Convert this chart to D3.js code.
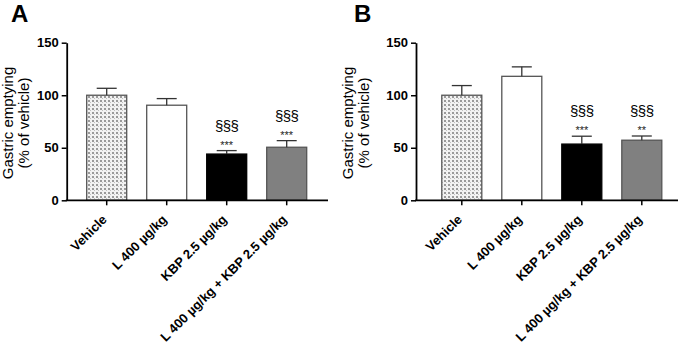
<!DOCTYPE html>
<html>
<head>
<meta charset="utf-8">
<script src="https://cdn.jsdelivr.net/npm/d3@7/dist/d3.min.js"></script>
<style>
  body { margin: 0; background: #fff; }
  svg { display: block; font-family: "Liberation Sans", Arial, sans-serif; }
  .tick text { font-weight: bold; font-size: 13px; fill: #000; }
  .tick line { stroke: #000; stroke-width: 1.5; }
</style>
</head>
<body>
<svg id="chart" width="685" height="342"></svg>
<script>
// Datos de los dos paneles
const groups = ["Vehicle", "L 400 µg/kg", "KBP 2.5 µg/kg", "L 400 µg/kg + KBP 2.5 µg/kg"];
const meanA = [100, 90.5, 44, 50.5];
const semA = [6.6, 6.3, 3.3, 6.3];
const meanB = [100, 118, 53.5, 57.2];
const semB = [9.2, 9, 7.5, 4];
const sectA = ["", "", "§§§", "§§§"];
const starsA = ["", "", "***", "***"];
const sectB = ["", "", "§§§", "§§§"];
const starsB = ["", "", "***", "**"];
const yTicks = [0, 50, 100, 150];

const fills = ["url(#dots)", "#ffffff", "#000000", "#808080"];

const svg = d3.select("#chart");

// patron punteado para Vehicle
const defs = svg.append("defs");
const pat = defs.append("pattern")
  .attr("id", "dots")
  .attr("patternUnits", "userSpaceOnUse")
  .attr("width", 4).attr("height", 4);
pat.append("rect").attr("width", 4).attr("height", 4).attr("fill", "#f2f2f2");
pat.append("rect").attr("x", 0).attr("y", 0).attr("width", 2).attr("height", 2).attr("fill", "#9a9a9a");
pat.append("rect").attr("x", 2).attr("y", 2).attr("width", 1).attr("height", 1).attr("fill", "#c0c0c0");

function drawPanel(cfg) {
  const g = svg.append("g");

  const y = d3.scaleLinear().domain([0, 150]).range([200.3, 42.7]);
  const step = 60;
  const x = d3.scaleBand()
    .domain(groups)
    .paddingInner(1 / 3)
    .paddingOuter(cfg.padOuter)
    .range([cfg.axisX, cfg.axisX + step * (4 - 1 / 3 + 2 * cfg.padOuter)]);

  // barras
  g.selectAll(".bar")
    .data(groups)
    .enter().append("rect")
    .attr("class", "bar")
    .attr("x", d => x(d))
    .attr("width", x.bandwidth())
    .attr("y", (d, i) => y(cfg.mean[i]))
    .attr("height", (d, i) => y(0) - y(cfg.mean[i]))
    .attr("fill", (d, i) => fills[i])
    .attr("stroke", (d, i) => i === 2 ? "#000" : "#555")
    .attr("stroke-width", 1.3);

  // barras de error (solo hacia arriba)
  const err = g.selectAll(".err")
    .data(groups)
    .enter().append("g")
    .attr("class", "err");
  err.append("line")
    .attr("x1", d => x(d) + x.bandwidth() / 2)
    .attr("x2", d => x(d) + x.bandwidth() / 2)
    .attr("y1", (d, i) => y(cfg.mean[i]))
    .attr("y2", (d, i) => y(cfg.mean[i] + cfg.sem[i]))
    .attr("stroke", "#333").attr("stroke-width", 1.3);
  err.append("line")
    .attr("x1", d => x(d) + x.bandwidth() / 2 - 10)
    .attr("x2", d => x(d) + x.bandwidth() / 2 + 10)
    .attr("y1", (d, i) => y(cfg.mean[i] + cfg.sem[i]))
    .attr("y2", (d, i) => y(cfg.mean[i] + cfg.sem[i]))
    .attr("stroke", "#333").attr("stroke-width", 1.3);

  // significancia
  g.selectAll(".stars")
    .data(groups)
    .enter().append("text")
    .attr("x", d => x(d) + x.bandwidth() / 2)
    .attr("y", (d, i) => y(cfg.mean[i] + cfg.sem[i]) - 2)
    .attr("text-anchor", "middle")
    .attr("font-size", 11)
    .attr("fill", "#222")
    .text((d, i) => cfg.stars[i]);
  g.selectAll(".sect")
    .data(groups)
    .enter().append("text")
    .attr("x", d => x(d) + x.bandwidth() / 2)
    .attr("y", (d, i) => y(cfg.mean[i] + cfg.sem[i]) - 20)
    .attr("text-anchor", "middle")
    .attr("font-size", 15)
    .attr("fill", "#000")
    .attr("letter-spacing", -0.5)
    .text((d, i) => cfg.sect[i]);

  // eje Y
  const yAxis = g.append("g")
    .attr("transform", `translate(${cfg.axisX},0)`)
    .call(d3.axisLeft(y).tickValues(yTicks).tickSize(5).tickPadding(3).tickSizeOuter(0));
  yAxis.select(".domain").attr("stroke", "#000").attr("stroke-width", 1.8);

  // eje X
  const xAxis = g.append("g")
    .attr("transform", `translate(0,${y(0)})`)
    .call(d3.axisBottom(x).tickSize(5).tickSizeOuter(0));
  xAxis.select(".domain").remove();
  xAxis.selectAll(".tick text")
    .attr("text-anchor", "end")
    .attr("y", 0)
    .attr("dy", 0)
    .attr("transform", "translate(1,20) rotate(-45)");
  g.append("line")
    .attr("x1", cfg.axisX - 0.9).attr("x2", cfg.axisEnd)
    .attr("y1", y(0)).attr("y2", y(0))
    .attr("stroke", "#000").attr("stroke-width", 1.8);

  // titulo eje Y
  const lab = g.append("text")
    .attr("transform", `translate(${cfg.labelX},123) rotate(-90)`)
    .attr("text-anchor", "middle")
    .attr("font-size", 15)
    .attr("fill", "#000");
  lab.append("tspan").attr("x", 0).attr("y", 0).text("Gastric emptying");
  lab.append("tspan").attr("x", 0).attr("y", 16.5).text("(% of vehicle)");

  // letra del panel
  g.append("text")
    .attr("x", cfg.letterX).attr("y", 22)
    .attr("font-size", 24).attr("font-weight", "bold")
    .text(cfg.letter);
}

drawPanel({ letter: "A", letterX: 11, axisX: 66.7, padOuter: 1 / 3, axisEnd: 328,
  labelX: 12.5, mean: meanA, sem: semA, sect: sectA, stars: starsA });
drawPanel({ letter: "B", letterX: 354, axisX: 416, padOuter: 0.43, axisEnd: 678,
  labelX: 352.5, mean: meanB, sem: semB, sect: sectB, stars: starsB });
</script>
</body>
</html>
